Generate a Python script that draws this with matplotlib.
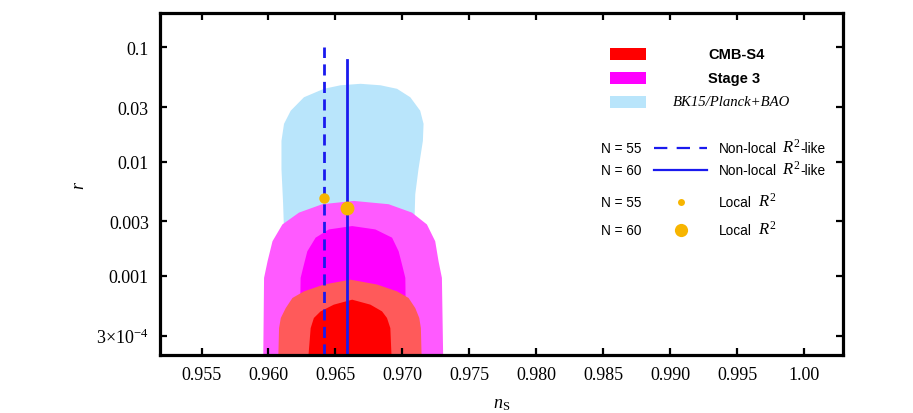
import matplotlib
matplotlib.use("Agg")
import matplotlib.pyplot as plt
from matplotlib.lines import Line2D
from matplotlib.patches import Rectangle

plt.rcParams['mathtext.fontset'] = 'custom'
plt.rcParams['mathtext.rm'] = 'Liberation Serif'
plt.rcParams['mathtext.it'] = 'Liberation Serif:italic'
plt.rcParams['mathtext.bf'] = 'Liberation Serif:bold'

# contour outlines (ns, r)
bk15_ns = [0.96116, 0.96109, 0.96097, 0.96097, 0.96116, 0.96166, 0.96265, 0.96414,
           0.96538, 0.96687, 0.96836, 0.96960, 0.97059, 0.97133, 0.97158, 0.97153,
           0.97120, 0.97096, 0.97088]
bk15_r = [0.0025, 0.00438, 0.00859, 0.0152, 0.0214, 0.0279, 0.0366, 0.0434,
          0.0466, 0.0480, 0.0466, 0.0434, 0.0366, 0.0279, 0.0214, 0.0152,
          0.00859, 0.00518, 0.0025]

s3_95_ns = [0.95960, 0.95967, 0.95993, 0.96030, 0.96104, 0.96228, 0.96402,
            0.96637, 0.96897, 0.97071, 0.97183, 0.97245, 0.97270, 0.97295, 0.97306]
s3_95_r = [1.5e-4, 0.00096, 0.00134, 0.00201, 0.00282, 0.00358, 0.00424,
           0.00453, 0.00424, 0.00358, 0.00282, 0.00201, 0.00134, 0.00096, 1.5e-4]

s3_68_ns = [0.96230, 0.96240, 0.96265, 0.96290, 0.96352, 0.96451, 0.96625,
            0.96798, 0.96923, 0.96972, 0.96997, 0.97022, 0.97030]
s3_68_r = [1.5e-4, 0.00096, 0.00126, 0.00164, 0.00216, 0.00255, 0.00273,
           0.00255, 0.00216, 0.00164, 0.00126, 0.00096, 1.5e-4]

s4_95_ns = [0.96071, 0.96079, 0.96092, 0.96129, 0.96179, 0.96265, 0.96414, 0.96612,
            0.96811, 0.96960, 0.97046, 0.97096, 0.97126, 0.97138, 0.97146]
s4_95_r = [1.5e-4, 0.000349, 0.000428, 0.000523, 0.000641, 0.000732, 0.000840, 0.000927,
           0.000840, 0.000732, 0.000641, 0.000523, 0.000428, 0.000349, 1.5e-4]

s4_68_ns = [0.96290, 0.96315, 0.96339, 0.96389, 0.96488, 0.96625,
            0.96761, 0.96848, 0.96885, 0.96910, 0.96923]
s4_68_r = [1.5e-4, 0.000349, 0.000428, 0.000489, 0.000560, 0.000619,
           0.000560, 0.000489, 0.000428, 0.000349, 1.5e-4]

# model predictions
nonlocal_ns = [0.96414, 0.96583]     # N = 55, N = 60
nonlocal_rtop = [0.1, 0.078]
local_ns = [0.96417, 0.96583]
local_r = [0.0048, 0.0039]

xticks = [0.955, 0.960, 0.965, 0.970, 0.975, 0.980, 0.985, 0.990, 0.995, 1.00]
xticklabels = ['0.955', '0.960', '0.965', '0.970', '0.975', '0.980', '0.985',
               '0.990', '0.995', '1.00']
yticks = [0.1, 0.03, 0.01, 0.003, 0.001, 3e-4]
yticklabels = ['0.1', '0.03', '0.01', '0.003', '0.001', r'$3{\times}10^{-4}$']

c_bk15 = '#b9e5fb'
c_s3_95 = '#ff5aff'
c_s3_68 = '#ff00ff'
c_s4_95 = '#ff5a5a'
c_s4_68 = '#ff0000'
c_line = '#1a1aee'
c_dot = '#f7b500'


def main():
    W, H = 913, 414
    fig = plt.figure(figsize=(W / 100, H / 100), dpi=100)
    ax = fig.add_axes([160 / W, 1 - 356 / H, (843 - 160) / W, (356 - 14) / H])

    ax.fill(bk15_ns, bk15_r, color=c_bk15, lw=0)
    ax.fill(s3_95_ns, s3_95_r, color=c_s3_95, lw=0)
    ax.fill(s3_68_ns, s3_68_r, color=c_s3_68, lw=0)
    ax.fill(s4_95_ns, s4_95_r, color=c_s4_95, lw=0)
    ax.fill(s4_68_ns, s4_68_r, color=c_s4_68, lw=0)

    ax.plot([nonlocal_ns[0]] * 2, [1e-4, nonlocal_rtop[0]], color=c_line, lw=2.0,
            ls=(0, (4, 2.3)))
    ax.plot([nonlocal_ns[1]] * 2, [1e-4, nonlocal_rtop[1]], color=c_line, lw=2.0)
    ax.plot(local_ns[0], local_r[0], 'o', color=c_dot, ms=7.5, mec='none')
    ax.plot(local_ns[1], local_r[1], 'o', color=c_dot, ms=10, mec='none')

    ax.set_yscale('log')
    ax.set_xlim(0.9519, 1.0029)
    ax.set_ylim(2.03e-4, 0.2)
    ax.set_xticks(xticks)
    ax.set_xticklabels(xticklabels, fontfamily='Liberation Serif', fontsize=13)
    ax.set_yticks(yticks)
    ax.set_yticklabels(yticklabels, fontfamily='Liberation Serif', fontsize=13)
    ax.minorticks_off()
    ax.tick_params(direction='in', length=5, width=1.6, top=True, right=True, pad=8)
    for sp in ax.spines.values():
        sp.set_linewidth(2.3)

    ax.set_xlabel(r'$n_{\rm S}$', fontsize=13, labelpad=8)
    ax.set_ylabel(r'$r$', fontsize=13)
    ax.yaxis.set_label_coords(-0.105, 0.5)

    def fx(x):
        return x / W

    def fy(y):
        return 1 - y / H

    # legend: experiments
    patches = [(55, c_s4_68), (79, c_s3_68), (103, c_bk15)]
    for y, c in patches:
        fig.add_artist(Rectangle((fx(610), fy(y + 6)), 36 / W, 12 / H,
                                 transform=fig.transFigure, color=c, lw=0))
    fig.text(fx(708), fy(55), 'CMB-S4', fontfamily='Liberation Sans', fontweight='bold',
             fontsize=10.5, va='center')
    fig.text(fx(708), fy(79), 'Stage 3', fontfamily='Liberation Sans', fontweight='bold',
             fontsize=10.5, va='center')
    fig.text(fx(673), fy(103), 'BK15/Planck+BAO', fontfamily='Liberation Serif',
             style='italic', fontsize=10.6, va='center')

    # legend: models
    rows = [149, 171, 203, 231]
    nlab = ['N = 55', 'N = 60', 'N = 55', 'N = 60']
    mlab = ['Non-local', 'Non-local', 'Local', 'Local']
    for i, (y, n, m) in enumerate(zip(rows, nlab, mlab)):
        fig.text(fx(601), fy(y), n, fontfamily='Liberation Sans', fontsize=9.8,
                 va='center')
        fig.text(fx(719), fy(y), m, fontfamily='Liberation Sans', fontsize=9.8,
                 va='center')
        if i < 2:
            fig.text(fx(781.5), fy(y) + 1 / H, r'$R^2$', fontsize=12, va='center')
            fig.text(fx(800.5), fy(y), '-like', fontfamily='Liberation Sans',
                     fontsize=9.8, va='center')
        else:
            fig.text(fx(757.5), fy(y) + 1 / H, r'$R^2$', fontsize=12, va='center')
    fig.add_artist(Line2D([fx(654), fx(707)], [fy(149)] * 2, color=c_line, lw=1.6,
                          ls=(0, (6, 4.2)), transform=fig.transFigure))
    fig.add_artist(Line2D([fx(654), fx(707)], [fy(171)] * 2, color=c_line, lw=1.6,
                          transform=fig.transFigure))
    fig.add_artist(Line2D([fx(681)], [fy(203)], marker='o', ms=5, color=c_dot,
                          mec='none', transform=fig.transFigure))
    fig.add_artist(Line2D([fx(681)], [fy(231)], marker='o', ms=9.5, color=c_dot,
                          mec='none', transform=fig.transFigure))

    fig.savefig('out.png', dpi=100)


if __name__ == "__main__":
    main()
